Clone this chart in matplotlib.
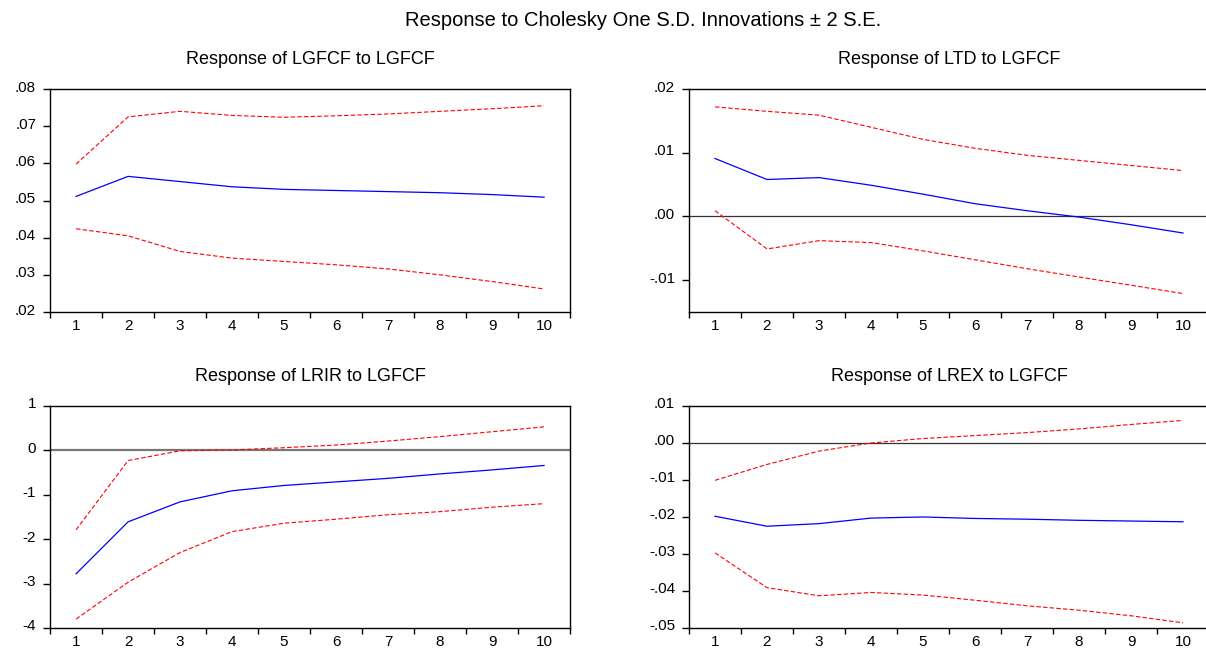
import numpy as np
import matplotlib
matplotlib.use("Agg")
import matplotlib.pyplot as plt
import matplotlib.transforms as mtransforms
from matplotlib.ticker import FuncFormatter, FixedLocator

plt.rcParams['font.family'] = ['Liberation Sans', 'DejaVu Sans']

periods = np.arange(1, 11)

# Response of LGFCF to LGFCF
gfcf_resp = [0.0511, 0.0565, 0.0551, 0.0537, 0.0530, 0.0527, 0.0524, 0.0521, 0.0516, 0.0509]
gfcf_upper = [0.0598, 0.0725, 0.0740, 0.0729, 0.0724, 0.0728, 0.0733, 0.0740, 0.0747, 0.0755]
gfcf_lower = [0.0424, 0.0405, 0.0363, 0.0345, 0.0336, 0.0327, 0.0316, 0.0300, 0.0282, 0.0262]

# Response of LTD to LGFCF
ltd_resp = [0.0091, 0.0058, 0.0061, 0.0049, 0.0035, 0.0020, 0.0009, -0.0001, -0.0013, -0.0026]
ltd_upper = [0.0172, 0.0165, 0.0159, 0.0140, 0.0121, 0.0107, 0.0096, 0.0088, 0.0080, 0.0072]
ltd_lower = [0.0009, -0.0051, -0.0038, -0.0041, -0.0054, -0.0068, -0.0082, -0.0095, -0.0108, -0.0121]

# Response of LRIR to LGFCF
lrir_resp = [-2.78, -1.61, -1.16, -0.91, -0.79, -0.71, -0.63, -0.53, -0.44, -0.34]
lrir_upper = [-1.79, -0.23, -0.01, 0.01, 0.06, 0.12, 0.21, 0.31, 0.42, 0.53]
lrir_lower = [-3.80, -2.97, -2.30, -1.83, -1.64, -1.55, -1.45, -1.38, -1.28, -1.20]

# Response of LREX to LGFCF
lrex_resp = [-0.0198, -0.0225, -0.0218, -0.0203, -0.0200, -0.0204, -0.0206, -0.0209, -0.0211, -0.0213]
lrex_upper = [-0.0101, -0.0058, -0.0022, 0.0000, 0.0012, 0.0020, 0.0028, 0.0038, 0.0050, 0.0061]
lrex_lower = [-0.0297, -0.0391, -0.0413, -0.0404, -0.0411, -0.0425, -0.0440, -0.0452, -0.0467, -0.0486]

panels = [
    ("Response of LGFCF to LGFCF", gfcf_resp, gfcf_upper, gfcf_lower, (0.02, 0.08), np.arange(0.02, 0.0801, 0.01), False),
    ("Response of LTD to LGFCF", ltd_resp, ltd_upper, ltd_lower, (-0.015, 0.02), [-0.01, 0.0, 0.01, 0.02], True),
    ("Response of LRIR to LGFCF", lrir_resp, lrir_upper, lrir_lower, (-4, 1), [-4, -3, -2, -1, 0, 1], True),
    ("Response of LREX to LGFCF", lrex_resp, lrex_upper, lrex_lower, (-0.05, 0.01), np.arange(-0.05, 0.0101, 0.01), True),
]

positions = [
    [0.0415, 0.5185, 0.4312, 0.3441],
    [0.5713, 0.5185, 0.4312, 0.3441],
    [0.0415, 0.0309, 0.4312, 0.3426],
    [0.5713, 0.0309, 0.4312, 0.3426],
]


def dec_fmt(v, pos):
    s = "%.2f" % v
    if s == "-0.00":
        s = "0.00"
    return s.replace("0.", ".", 1) if s.lstrip("-").startswith("0.") else s


fig = plt.figure(figsize=(12.06, 6.48), dpi=100)
fig.suptitle("Response to Cholesky One S.D. Innovations \u00b1 2 S.E.",
             x=0.5336, y=1 - 21 / 648, va='center', fontsize=14.5)

for i, (title, resp, up, lo, ylim, yt, zero) in enumerate(panels):
    ax = fig.add_axes(positions[i])
    if zero:
        zc = '#777777' if i == 2 else '#333333'
        zw = 1.6 if i == 2 else 0.9
        ax.axhline(0, color=zc, lw=zw, zorder=1)
    ax.plot(periods, resp, color='blue', lw=0.9, zorder=3)
    ax.plot(periods, up, color='red', lw=0.8, dashes=(4, 2), zorder=2)
    ax.plot(periods, lo, color='red', lw=0.8, dashes=(4, 2), zorder=2)
    ax.set_xlim(0.5, 10.5)
    ax.set_ylim(*ylim)
    ax.yaxis.set_major_locator(FixedLocator(yt))
    if i == 2:
        ax.yaxis.set_major_formatter(FuncFormatter(lambda v, p: "%d" % round(v)))
    else:
        ax.yaxis.set_major_formatter(FuncFormatter(dec_fmt))
    ax.set_xticks(periods)
    ax.set_xticks(np.arange(0.5, 10.6, 1.0), minor=True)
    ax.tick_params(axis='x', which='major', length=0, pad=5, labelsize=11)
    ax.tick_params(axis='x', which='minor', length=4, width=1.0, direction='out')
    ax.tick_params(axis='y', which='major', length=5, width=1.0, direction='out', pad=5, labelsize=11)
    for sp in ax.spines.values():
        sp.set_linewidth(1.0)
    offset = mtransforms.ScaledTranslation(0, 3 / 100, fig.dpi_scale_trans)
    for lab in ax.get_yticklabels():
        lab.set_transform(lab.get_transform() + offset)
    ax.set_title(title, fontsize=13, pad=18)

fig.savefig("out.png", dpi=100)
